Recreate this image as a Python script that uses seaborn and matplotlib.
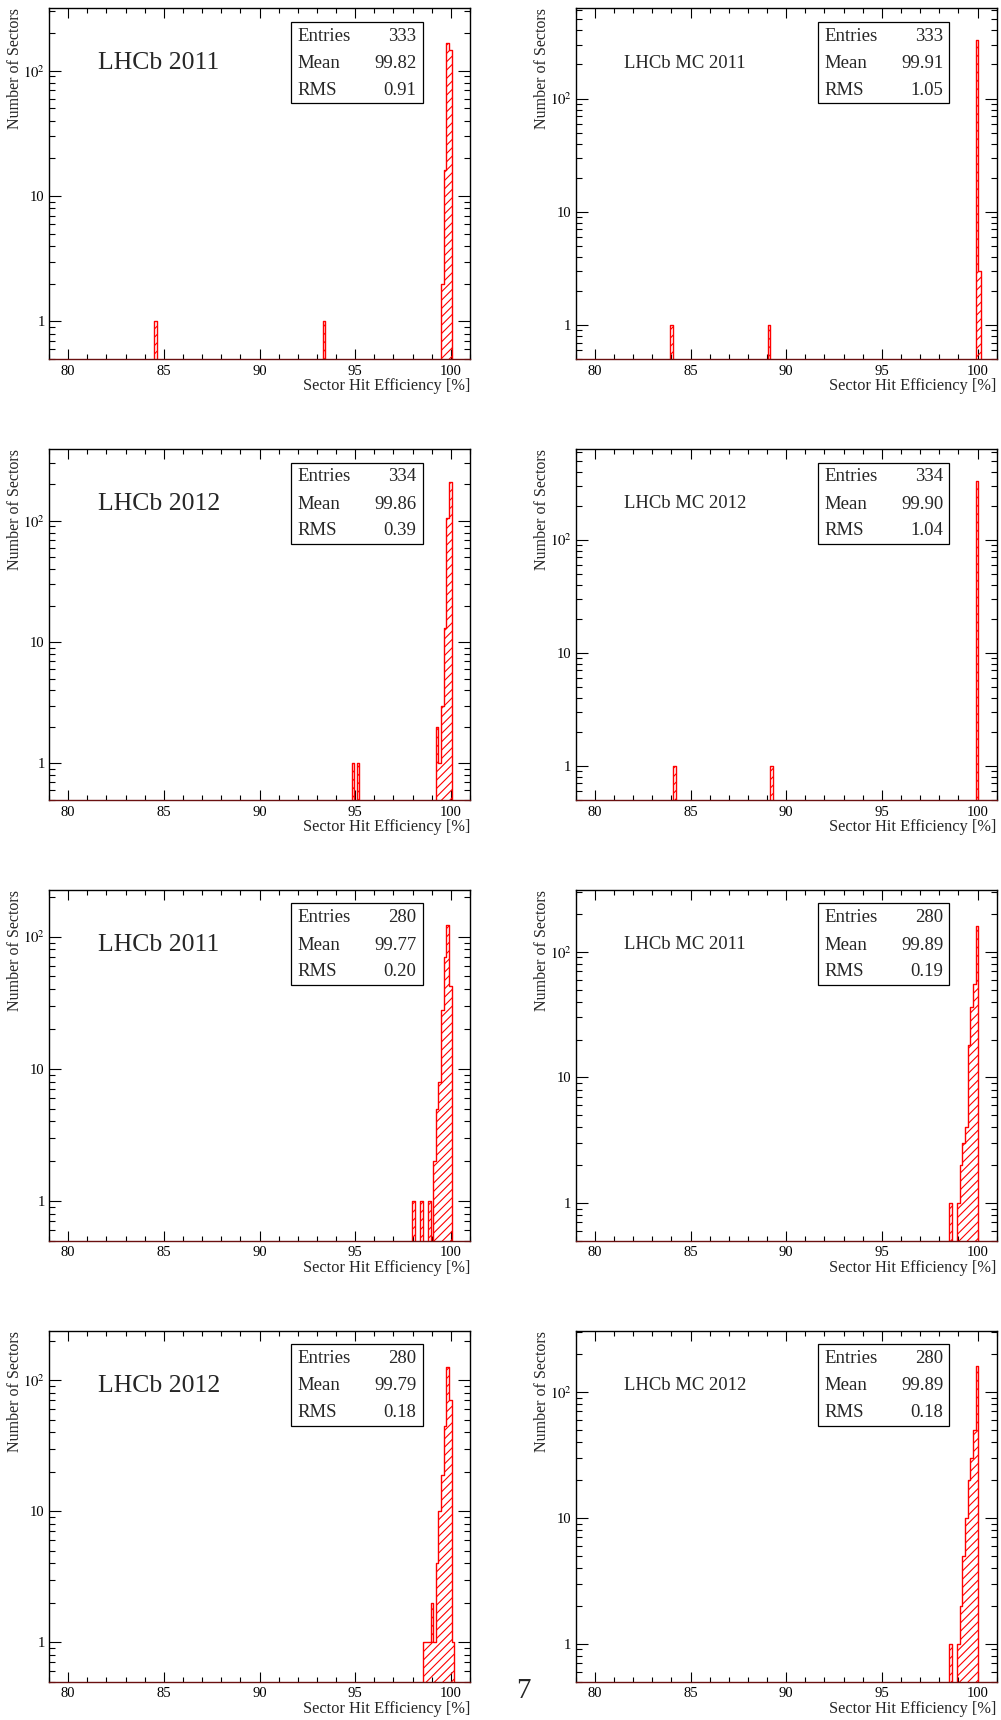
import numpy as np
import matplotlib
matplotlib.use("Agg")
import matplotlib.pyplot as plt
import seaborn as sns
from matplotlib.ticker import MultipleLocator, LogLocator, NullFormatter, FixedLocator, FixedFormatter
from matplotlib.patches import Rectangle

# histogram binning: 160 bins between 79 and 101
bin_edges = list(np.linspace(79, 101, 161))

# bin centres (efficiency, %) and counts
eff_lhcb2011_a = [84.57, 93.37, 99.56, 99.69, 99.83, 99.97]
cnt_lhcb2011_a = [1, 1, 2, 16, 167, 146]

eff_mc2011_a = [84.02, 89.11, 99.97, 100.11]
cnt_mc2011_a = [1, 1, 328, 3]

eff_lhcb2012_a = [94.88, 95.16, 99.28, 99.42, 99.56, 99.69, 99.83, 99.97]
cnt_lhcb2012_a = [1, 1, 2, 1, 3, 13, 105, 208]

eff_mc2012_a = [84.16, 89.24, 99.97]
cnt_mc2012_a = [1, 1, 332]

eff_lhcb2011_b = [98.04, 98.46, 98.87, 99.14, 99.28, 99.42, 99.56, 99.69, 99.83, 99.97]
cnt_lhcb2011_b = [1, 1, 1, 2, 5, 8, 28, 70, 122, 42]

eff_mc2011_b = [98.59, 99.01, 99.14, 99.28, 99.42, 99.56, 99.69, 99.83, 99.97]
cnt_mc2011_b = [1, 1, 2, 3, 4, 18, 36, 55, 160]

eff_lhcb2012_b = [98.59, 98.73, 98.87, 99.01, 99.14, 99.28, 99.42, 99.56, 99.69, 99.83, 99.97, 100.11]
cnt_lhcb2012_b = [1, 1, 1, 2, 1, 4, 10, 19, 45, 125, 70, 1]

eff_mc2012_b = [98.59, 99.01, 99.14, 99.28, 99.42, 99.56, 99.69, 99.83, 99.97]
cnt_mc2012_b = [1, 1, 2, 5, 10, 20, 30, 50, 161]

labels = ["LHCb 2011", "LHCb MC 2011", "LHCb 2012", "LHCb MC 2012",
          "LHCb 2011", "LHCb MC 2011", "LHCb 2012", "LHCb MC 2012"]
entries = ["333", "333", "334", "334", "280", "280", "280", "280"]
means = ["99.82", "99.91", "99.86", "99.90", "99.77", "99.89", "99.79", "99.89"]
rms = ["0.91", "1.05", "0.39", "1.04", "0.20", "0.19", "0.18", "0.18"]
y_top = [314, 625, 390, 630, 225, 310, 238, 306]

effs = [eff_lhcb2011_a, eff_mc2011_a, eff_lhcb2012_a, eff_mc2012_a,
        eff_lhcb2011_b, eff_mc2011_b, eff_lhcb2012_b, eff_mc2012_b]
cnts = [cnt_lhcb2011_a, cnt_mc2011_a, cnt_lhcb2012_a, cnt_mc2012_a,
        cnt_lhcb2011_b, cnt_mc2011_b, cnt_lhcb2012_b, cnt_mc2012_b]

sns.set_style("ticks")
plt.rcParams['font.family'] = ['Liberation Serif', 'DejaVu Serif']
plt.rcParams['mathtext.fontset'] = 'stix'
plt.rcParams['hatch.color'] = 'red'
plt.rcParams['hatch.linewidth'] = 0.8

W, H = 1001, 1720
fig = plt.figure(figsize=(W / 100, H / 100), dpi=100)

col_left = [49, 575.7]
row_top = [8.4, 449.2, 890.0, 1330.8]
ax_w, ax_h = 421, 350.8

for i in range(8):
    r, c = divmod(i, 2)
    x0 = col_left[c]
    y0 = row_top[r]
    ax = fig.add_axes([x0 / W, 1 - (y0 + ax_h) / H, ax_w / W, ax_h / H])

    sns.histplot(x=effs[i], weights=cnts[i], bins=bin_edges, element="step",
                 fill=True, color="red", facecolor="none", edgecolor="red",
                 hatch="////", linewidth=1.0, ax=ax)
    ax.set_yscale("log")
    ax.set_xlim(79, 101)
    ax.set_ylim(0.5, y_top[i])
    ax.set_xlabel("")
    ax.set_ylabel("")

    # ROOT-like axes
    ax.xaxis.set_major_locator(MultipleLocator(5))
    ax.xaxis.set_minor_locator(MultipleLocator(1))
    ax.yaxis.set_major_locator(FixedLocator([1, 10, 100]))
    ax.yaxis.set_major_formatter(FixedFormatter(["1", "10", "$10^{2}$"]))
    ax.yaxis.set_minor_locator(LogLocator(base=10, subs=np.arange(2, 10)))
    ax.yaxis.set_minor_formatter(NullFormatter())
    ax.tick_params(which="both", direction="in", top=True, right=True,
                   labelsize=10.5, width=0.8, colors="black")
    ax.tick_params(axis="x", which="major", length=7, pad=4)
    ax.tick_params(axis="x", which="minor", length=3.8)
    ax.tick_params(axis="y", which="major", length=8.5, pad=3)
    ax.tick_params(axis="y", which="minor", length=4.3)
    for side in ["left", "right", "top", "bottom"]:
        ax.spines[side].set_linewidth(1.0)
        ax.spines[side].set_color("black")
    ax.spines["bottom"].set_color("#6a1010")

    # experiment label
    if "MC" in labels[i]:
        ax.text(0.115, 0.844, labels[i], transform=ax.transAxes, fontsize=13.4,
                ha="left", va="center")
    else:
        ax.text(0.116, 0.844, labels[i], transform=ax.transAxes, fontsize=18.5,
                ha="left", va="center")

    # statistics box
    ax.add_patch(Rectangle((0.575, 0.729), 0.3125, 0.233, transform=ax.transAxes,
                           facecolor="white", edgecolor="black", linewidth=0.9,
                           zorder=5))
    for k, (name, val) in enumerate(zip(["Entries", "Mean", "RMS"],
                                         [entries[i], means[i], rms[i]])):
        yy = [0.921, 0.843, 0.767][k]
        ax.text(0.591, yy, name, transform=ax.transAxes, fontsize=13.5,
                ha="left", va="center", zorder=6)
        ax.text(0.873, yy, val, transform=ax.transAxes, fontsize=13.5,
                ha="right", va="center", zorder=6)

    # axis titles placed like ROOT does
    fig.text((x0 - 34) / W, 1 - y0 / H, "Number of Sectors", rotation=90,
             ha="center", va="top", fontsize=11.5)
    fig.text((x0 + ax_w) / W, 1 - (y0 + ax_h + 27) / H, "Sector Hit Efficiency [%]",
             ha="right", va="center", fontsize=11.8)

fig.text(523 / W, 1 - 1691 / H, "7", ha="center", va="center", fontsize=21)

plt.savefig("out.png", dpi=100)
plt.close()
